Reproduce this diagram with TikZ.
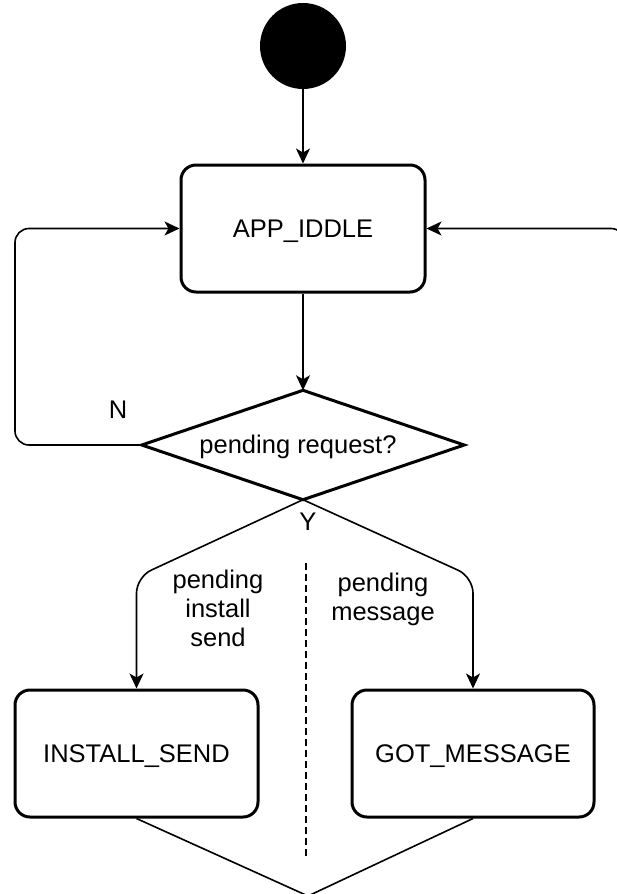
\documentclass[tikz,border=0pt]{standalone}
\usepackage{fontspec}
\setmainfont{Liberation Sans}
\usetikzlibrary{arrows.meta}

\begin{document}
\begin{tikzpicture}[x=1pt,y=-1pt,
  txt/.style={font=\fontsize{25.5}{29}\selectfont, text=black},
  state/.style={txt, draw, line width=3pt, rounded corners=15pt,
    minimum width=243pt, minimum height=127pt, inner sep=0pt,
    text height=18.5pt, text depth=0pt},
  decisionbox/.style={inner sep=0pt, minimum width=322pt, minimum height=109pt},
  decisionline/.style={line width=3pt, line join=miter},
  conn/.style={line width=1.6pt, line join=round},
  arr/.style={conn, -{Stealth[length=15pt, width=14pt, inset=4pt]}},
  lbl/.style={txt, align=center, inner sep=0pt}
]
\useasboundingbox (0,0) rectangle (617,894);
\clip (0,0) rectangle (617,894);

% states
\node[circle, fill=black, minimum size=86pt, inner sep=0pt] (start) at (303,46) {};
\node[state, minimum width=244pt] (idle) at (303,228.5) {APP\_IDDLE};
\node[state] (install) at (136.5,753.5) {INSTALL\_SEND};
\node[state, minimum width=242pt] (gotmsg) at (473,753.5) {GOT\_MESSAGE};

% decision: a diamond spanned by the corners of its box
\node[decisionbox] (req) at (303,445) {};
\draw[decisionline] (req.west) -- (req.north) -- (req.east) -- (req.south) -- cycle;
\node[txt, inner sep=0pt] (reqtxt) at (298,447) {pending request?};

% helper points for bends
\coordinate (nlow) at (15,445);
\coordinate (nhigh) at (15,228.5);
\coordinate (rlow) at (625,320);
\coordinate (rhigh) at (625,228.5);
\coordinate (lbend) at (136.5,577);
\coordinate (rbend) at (473,577);
\coordinate (merge) at (308,896);
\coordinate (sepTop) at (306,563);
\coordinate (sepBot) at (306,858);

% connectors
\draw[arr] (start) -- (idle);
\draw[arr] (idle) -- (req.north);
\draw[arr, rounded corners=14pt] (req.west) -- (nlow) -- (nhigh) -- (idle.west);
\draw[arr, rounded corners=14pt] (rlow) -- (rhigh) -- (idle.east);
\draw[arr, rounded corners=16pt] (req.south) -- (lbend) -- (install.north);
\draw[arr, rounded corners=16pt] (req.south) -- (rbend) -- (gotmsg.north);
\draw[conn] (install.south) -- (merge);
\draw[conn] (gotmsg.south) -- (merge);
\draw[line width=1.5pt, dash pattern=on 7pt off 4pt] (sepTop) -- (sepBot);

% labels
\node[lbl] (nlab) at (118,410) {N};
\node[lbl] (ylab) at (308,522) {Y};
\node[lbl] (inslab) at (218,608) {pending\\install\\send};
\node[lbl] (msglab) at (383,599) {pending\\message};
\end{tikzpicture}
\end{document}
